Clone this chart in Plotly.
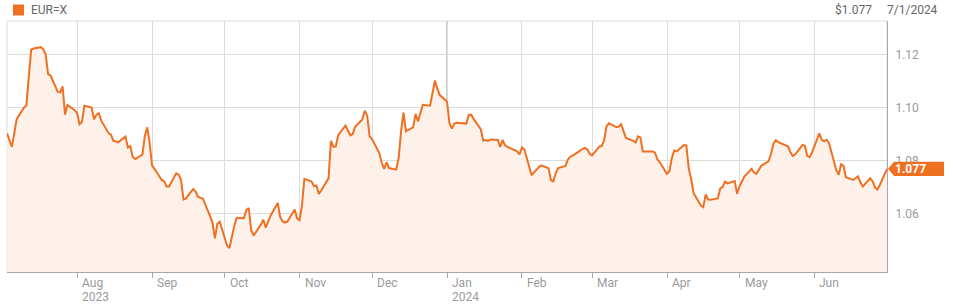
import pandas as pd
import plotly.graph_objects as go

# EUR=X daily closes (weekdays), Jul 3 2023 .. Jul 1 2024, one row per week (Mon..Fri)
weekly_values = [
    [1.0903, 1.0878, 1.0852, 1.0903, 1.0957],
    [1.1000, 1.1008, 1.1116, 1.1220, 1.1224],
    [1.1229, 1.1221, 1.1201, 1.1127, 1.1122],
    [1.1060, 1.1058, 1.1081, 1.0974, 1.1011],
    [1.0991, 1.0980, 1.0938, 1.0946, 1.1008],
    [1.1001, 1.0956, 1.0974, 1.0979, 1.0951],
    [1.0904, 1.0898, 1.0875, 1.0873, 1.0869],
    [1.0891, 1.0850, 1.0855, 1.0814, 1.0806],
    [1.0823, 1.0892, 1.0926, 1.0867, 1.0782],
    [1.0741, 1.0726, 1.0722, 1.0702, 1.0702],
    [1.0752, 1.0747, 1.0727, 1.0653, 1.0657],
    [1.0693, 1.0683, 1.0663, 1.0660, 1.0657],
    [1.0590, 1.0565, 1.0506, 1.0561, 1.0569],
    [1.0479, 1.0470, 1.0514, 1.0553, 1.0584],
    [1.0582, 1.0613, 1.0621, 1.0538, 1.0517],
    [1.0558, 1.0577, 1.0547, 1.0570, 1.0592],
    [1.0640, 1.0586, 1.0570, 1.0566, 1.0570],
    [1.0615, 1.0582, 1.0575, 1.0630, 1.0731],
    [1.0721, 1.0703, 1.0706, 1.0674, 1.0688],
    [1.0733, 1.0875, 1.0852, 1.0854, 1.0896],
    [1.0932, 1.0913, 1.0896, 1.0901, 1.0928],
    [1.0956, 1.0989, 1.0970, 1.0892, 1.0882],
    [1.0829, 1.0792, 1.0769, 1.0794, 1.0772],
    [1.0766, 1.0810, 1.0911, 1.0982, 1.0911],
    [1.0926, 1.0977, 1.0948, 1.0980, 1.1011],
    [1.1008, 1.1049, 1.1103, 1.1072, 1.1048],
    [1.1024, 1.0942, 1.0921, 1.0940, 1.0943],
    [1.0941, 1.0940, 1.0974, 1.0974, 1.0958],
    [1.0918, 1.0875, 1.0878, 1.0875, 1.0880],
    [1.0878, 1.0852, 1.0878, 1.0858, 1.0852],
    [1.0840, 1.0835, 1.0824, 1.0850, 1.0842],
    [1.0745, 1.0756, 1.0767, 1.0776, 1.0782],
    [1.0771, 1.0726, 1.0722, 1.0753, 1.0772],
    [1.0780, 1.0804, 1.0815, 1.0820, 1.0825],
    [1.0844, 1.0848, 1.0843, 1.0826, 1.0820],
    [1.0853, 1.0855, 1.0877, 1.0930, 1.0941],
    [1.0927, 1.0928, 1.0938, 1.0914, 1.0886],
    [1.0875, 1.0869, 1.0892, 1.0888, 1.0835],
    [1.0835, 1.0835, 1.0831, 1.0805, 1.0794],
    [1.0750, 1.0760, 1.0810, 1.0838, 1.0835],
    [1.0859, 1.0858, 1.0769, 1.0731, 1.0677],
    [1.0630, 1.0624, 1.0672, 1.0653, 1.0652],
    [1.0657, 1.0694, 1.0701, 1.0721, 1.0714],
    [1.0723, 1.0675, 1.0703, 1.0721, 1.0740],
    [1.0769, 1.0755, 1.0751, 1.0767, 1.0781],
    [1.0797, 1.0825, 1.0863, 1.0877, 1.0870],
    [1.0859, 1.0854, 1.0833, 1.0818, 1.0823],
    [1.0859, 1.0857, 1.0818, 1.0813, 1.0831],
    [1.0903, 1.0879, 1.0873, 1.0879, 1.0867],
    [1.0765, 1.0746, 1.0786, 1.0781, 1.0737],
    [1.0727, 1.0735, 1.0741, 1.0718, 1.0702],
    [1.0733, 1.0723, 1.0699, 1.0691, 1.0707],
    [1.0769],
]
start_date = "2023-07-03"
end_date = "2024-07-01"

month_ticks = ["2023-08-01", "2023-09-01", "2023-10-01", "2023-11-01", "2023-12-01",
               "2024-01-01", "2024-02-01", "2024-03-01", "2024-04-01", "2024-05-01",
               "2024-06-01"]
month_labels = ["Aug", "Sep", "Oct", "Nov", "Dec", "Jan", "Feb", "Mar", "Apr", "May", "Jun"]
year_labels = {"2023-08-01": "2023", "2024-01-01": "2024"}
y_ticks = [1.06, 1.08, 1.10, 1.12]
y_range = [1.0379, 1.1328]

series_name = "EUR=X"
last_label = "$1.077"
last_date_label = "7/1/2024"

values = [v for week in weekly_values for v in week]
dates = pd.bdate_range(start_date, end_date)

LINE = "#f07022"
FILL = "#fdf1e9"
GRID = "#dcdcdc"
AXIS = "#a8a8a8"
TICKTXT = "#9a9a9a"
FONT = "Roboto, Arial, sans-serif"

W, H = 953, 306
ml, mr, mt, mb = 7, 66, 21, 34
pw, ph = W - ml - mr, H - mt - mb

fig = go.Figure()
fig.add_trace(go.Scatter(
    x=dates, y=values, mode="lines",
    line=dict(color=LINE, width=2),
    fill="tozeroy", fillcolor=FILL,
    hoverinfo="x+y", showlegend=False,
))

annotations = []
for d, lab in zip(month_ticks, month_labels):
    annotations.append(dict(x=d, xref="x", y=0, yref="paper", text=lab, showarrow=False,
                            xanchor="left", yanchor="middle", xshift=3, yshift=-11,
                            font=dict(family=FONT, size=12, color=TICKTXT)))
    if d in year_labels:
        annotations.append(dict(x=d, xref="x", y=0, yref="paper", text=year_labels[d],
                                showarrow=False, xanchor="left", yanchor="middle",
                                xshift=3, yshift=-25,
                                font=dict(family=FONT, size=12, color=TICKTXT)))

# header texts
annotations.append(dict(x=(29 - ml) / pw, xref="paper", y=1, yref="paper", text=series_name,
                        showarrow=False, xanchor="left", yanchor="middle", yshift=11,
                        font=dict(family=FONT, size=12, color="#666666")))
annotations.append(dict(x=(874 - ml) / pw, xref="paper", y=1, yref="paper", text=last_label,
                        showarrow=False, xanchor="right", yanchor="middle", yshift=11,
                        font=dict(family=FONT, size=12, color="#666666")))
annotations.append(dict(x=(940 - ml) / pw, xref="paper", y=1, yref="paper", text=last_date_label,
                        showarrow=False, xanchor="right", yanchor="middle", yshift=11,
                        font=dict(family=FONT, size=12, color="#666666")))

# last value tag
last = values[-1]
yp = (last - y_range[0]) / (y_range[1] - y_range[0])
hh = 7.2 / ph
x_tip = (888 - ml) / pw
x_body = (894 - ml) / pw
x_end = (944 - ml) / pw
tag_path = (f"M {x_tip} {yp} L {x_body} {yp + hh} L {x_end} {yp + hh} "
            f"L {x_end} {yp - hh} L {x_body} {yp - hh} Z")
annotations.append(dict(x=(910 - ml) / pw, xref="paper", y=yp, yref="paper",
                        text=f"<b>{last:.3f}</b>", showarrow=False,
                        xanchor="center", yanchor="middle",
                        font=dict(family=FONT, size=12, color="white")))

shapes = [
    # plot frame (top/left light)
    dict(type="rect", xref="paper", yref="paper", x0=0, x1=1, y0=0, y1=1,
         line=dict(color=GRID, width=1), layer="below"),
    # year boundary line
    dict(type="line", xref="x", yref="paper", x0="2024-01-01", x1="2024-01-01", y0=0, y1=1,
         line=dict(color="#9a9a9a", width=1), layer="below"),
    # legend square
    dict(type="rect", xref="paper", yref="paper",
         x0=(13 - ml) / pw, x1=(24 - ml) / pw,
         y0=(H - mb - 15.5) / ph, y1=(H - mb - 4.5) / ph,
         line=dict(width=0), fillcolor=LINE),
    dict(type="path", xref="paper", yref="paper", path=tag_path,
         line=dict(width=0), fillcolor=LINE),
]

fig.update_layout(
    width=W, height=H,
    margin=dict(l=ml, r=mr, t=mt, b=mb),
    paper_bgcolor="white", plot_bgcolor="white",
    font=dict(family=FONT, size=12, color=TICKTXT),
    showlegend=False,
    xaxis=dict(
        type="date", range=[start_date, end_date],
        tickvals=month_ticks, showticklabels=False,
        ticks="outside", ticklen=5, tickcolor=AXIS,
        showgrid=True, gridcolor=GRID, gridwidth=1,
        showline=True, linecolor=AXIS, linewidth=1,
        zeroline=False, fixedrange=True,
    ),
    yaxis=dict(
        side="right", range=y_range, tickvals=y_ticks,
        ticktext=[f"{t:.2f}" for t in y_ticks],
        ticks="", ticklabelstandoff=5,
        tickfont=dict(family=FONT, size=12, color=TICKTXT),
        showgrid=True, gridcolor=GRID, gridwidth=1,
        showline=True, linecolor=AXIS, linewidth=1,
        zeroline=False, fixedrange=True,
    ),
    annotations=annotations,
    shapes=shapes,
)

fig.write_html("out.html")
